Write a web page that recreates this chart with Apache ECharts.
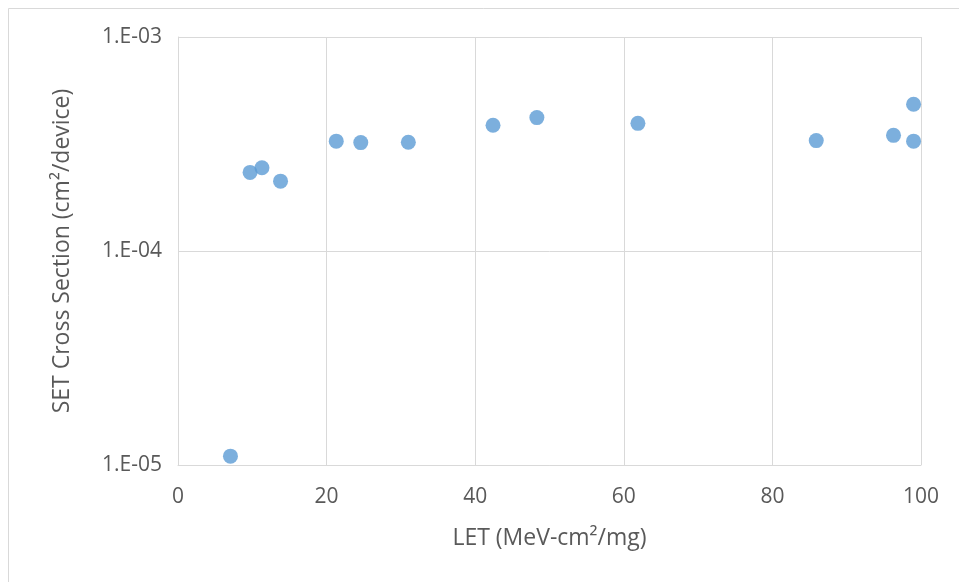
<!DOCTYPE html>
<html>
<head>
<meta charset="utf-8">
<script src="https://cdn.jsdelivr.net/npm/echarts@6/dist/echarts.min.js"></script>
<style>html,body{margin:0;padding:0;background:#fff}#c{width:959px;height:582px}</style>
</head>
<body>
<div id="c"></div>
<script>
var letValues = [7.06, 9.7, 11.3, 13.8, 21.3, 24.6, 31.0, 42.4, 48.3, 61.9, 85.9, 96.3, 99.0, 99.0];
var crossSections = [1.10e-5, 2.33e-4, 2.45e-4, 2.12e-4, 3.26e-4, 3.21e-4, 3.22e-4, 3.87e-4, 4.20e-4, 3.95e-4, 3.28e-4, 3.47e-4, 4.85e-4, 3.26e-4];
var xTicks = [0, 20, 40, 60, 80, 100];
var yTickLabels = ['1.E-05', '1.E-04', '1.E-03'];

var pts = letValues.map(function (x, i) { return [x, crossSections[i]]; });
var chart = echarts.init(document.getElementById('c'));
var font = '"Open Sans", "Liberation Sans", sans-serif';
chart.setOption({
  animation: false,
  backgroundColor: '#fff',
  graphic: [
    { type: 'line', shape: { x1: 8.5, y1: 8.5, x2: 959, y2: 8.5 }, style: { stroke: '#d9d9d9', lineWidth: 1 } },
    { type: 'line', shape: { x1: 8.5, y1: 8.5, x2: 8.5, y2: 582 }, style: { stroke: '#d9d9d9', lineWidth: 1 } }
  ],
  grid: { left: 178, right: 38, top: 37, bottom: 117 },
  xAxis: {
    type: 'value', min: 0, max: 100, interval: 20,
    name: 'LET (MeV-cm²/mg)', nameLocation: 'middle', nameGap: 62,
    nameTextStyle: { fontFamily: font, fontSize: 23, color: '#595959' },
    axisLine: { show: true, lineStyle: { color: '#d9d9d9', width: 1 } },
    axisTick: { show: false },
    axisLabel: { fontFamily: font, fontSize: 21, color: '#595959', margin: 22,
      formatter: function (v) { return xTicks.indexOf(v) >= 0 ? String(v) : ''; } },
    splitLine: { show: true, lineStyle: { color: '#d9d9d9', width: 1 } }
  },
  yAxis: {
    type: 'log', logBase: 10, min: 1e-5, max: 1e-3,
    name: 'SET Cross Section (cm²/device)', nameLocation: 'middle', nameGap: 104,
    nameTextStyle: { fontFamily: font, fontSize: 23, color: '#595959' },
    axisLine: { show: true, lineStyle: { color: '#d9d9d9', width: 1 } },
    axisTick: { show: false },
    axisLabel: { fontFamily: font, fontSize: 21, color: '#595959', margin: 16,
      formatter: function (v) {
        var e = Math.round(Math.log10(v));
        return yTickLabels[e + 5] || '';
      } },
    splitLine: { show: true, lineStyle: { color: '#d9d9d9', width: 1 } },
    minorSplitLine: { show: false }
  },
  series: [{
    type: 'scatter', data: pts, symbol: 'circle', symbolSize: 15,
    itemStyle: { color: '#5B9BD5' }
  }]
});
</script>
</body>
</html>
